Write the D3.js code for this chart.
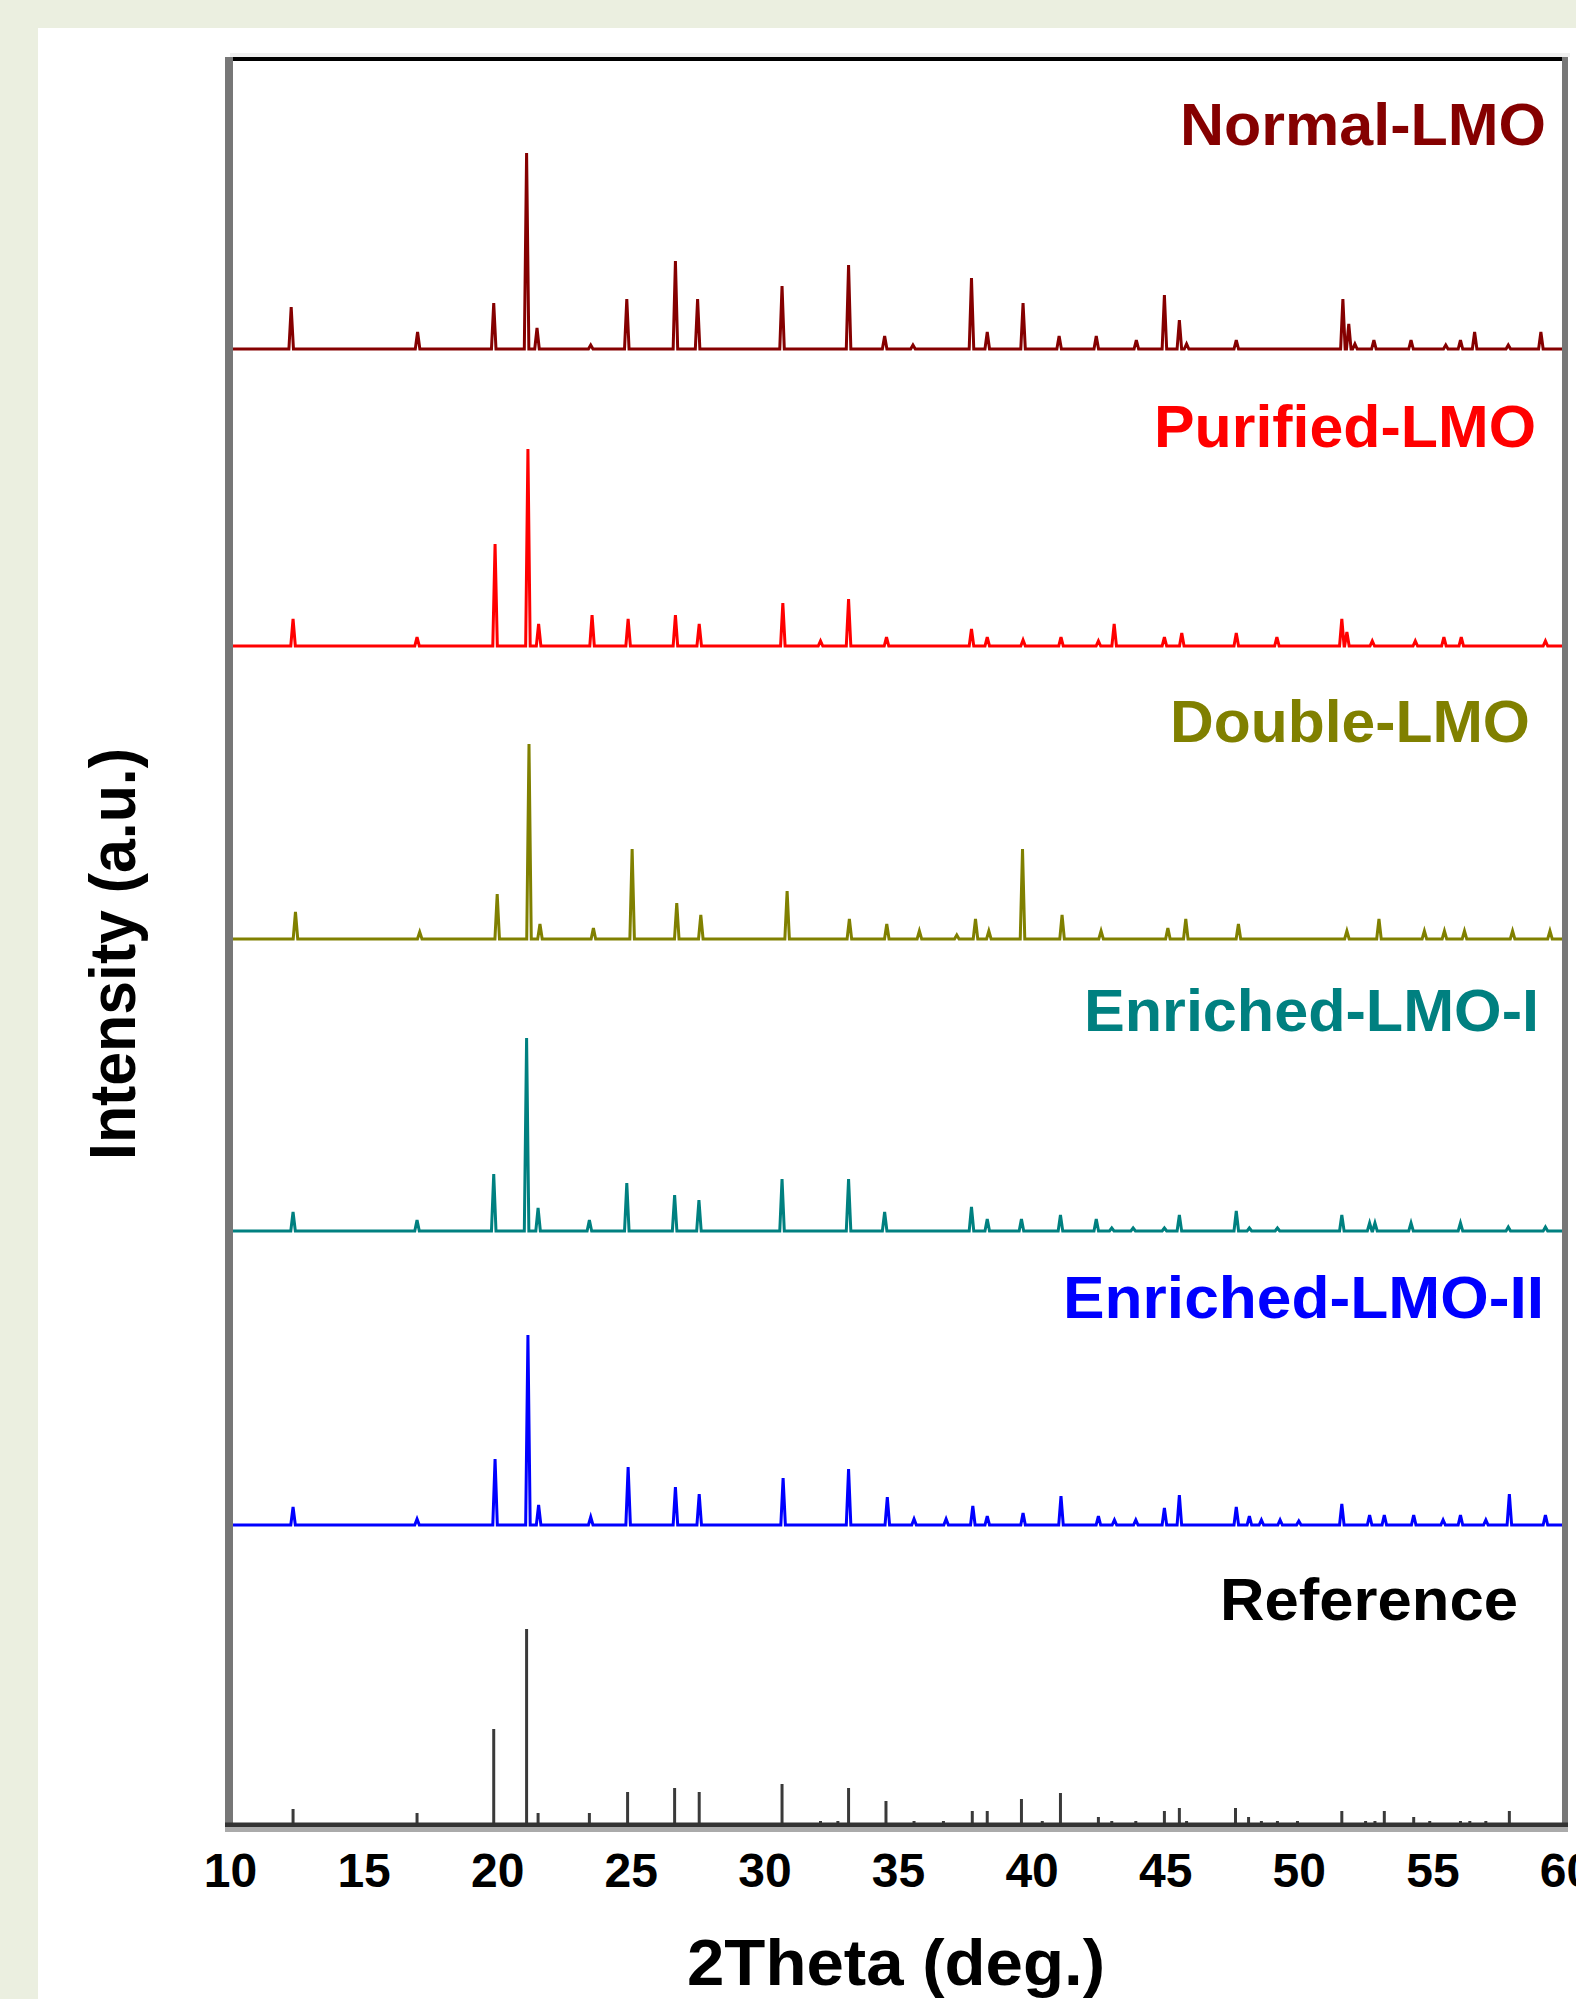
<!DOCTYPE html>
<html><head><meta charset="utf-8">
<script src="https://cdn.jsdelivr.net/npm/d3@7/dist/d3.min.js"></script>
<style>html,body{margin:0;padding:0;background:#fff;} svg{display:block;}</style>
</head><body>
<script>
// ---------------- DATA ----------------
const seriesNames = ["Normal-LMO", "Purified-LMO", "Double-LMO", "Enriched-LMO-I", "Enriched-LMO-II", "Reference"];
const xTickValues = [10, 15, 20, 25, 30, 35, 40, 45, 50, 55, 60];
const xTitle = "2Theta (deg.)";
const yTitle = "Intensity (a.u.)";
// vertical stacking offsets (a.u.)
const offsets = [1476, 1179, 886, 594, 300, 0];

const normalPos = [12.29,17.02,19.87,21.10,21.49,23.50,24.85,26.67,27.50,30.66,33.15,34.50,35.56,37.75,38.34,39.68,41.03,42.42,43.92,44.97,45.53,45.80,47.66,51.65,51.87,52.10,52.81,54.20,55.50,56.05,56.58,57.84,59.06];
const normalInt = [42,17,46,196,21,4,50,88,50,63,84,13,4,71,17,46,13,13,9,54,29,5,9,50,25,5,9,9,4,9,17,4,17];

const purifiedPos = [12.36,17.00,19.92,21.15,21.55,23.55,24.90,26.67,27.56,30.69,32.10,33.15,34.57,37.75,38.34,39.68,41.10,42.50,43.09,44.97,45.62,47.66,49.18,51.61,51.80,52.75,54.36,55.43,56.08,59.23];
const purifiedInt = [27,9,102,197,22,31,27,31,22,43,5,47,9,17,9,6,9,5,22,9,13,13,9,27,14,5,5,9,9,5];

const doublePos = [12.45,17.10,20.00,21.19,21.60,23.60,25.05,26.72,27.62,30.85,33.18,34.58,35.80,37.20,37.90,38.40,39.66,41.14,42.60,45.10,45.77,47.74,51.80,53.00,54.70,55.45,56.20,58.00,59.40];
const doubleInt = [27,7,45,195,15,11,90,36,24,48,20,15,8,4,20,8,90,24,8,11,20,15,8,20,8,8,8,8,8];

const enrichedIPos = [12.36,17.00,19.87,21.10,21.53,23.45,24.85,26.64,27.55,30.66,33.15,34.50,37.75,38.34,39.62,41.08,42.42,43.00,43.80,44.97,45.53,47.66,48.15,49.20,51.61,52.65,52.85,54.20,56.05,57.84,59.23];
const enrichedIInt = [19,11,57,193,23,11,48,36,31,52,52,19,24,12,12,16,12,3,3,3,16,20,3,3,16,8,8,8,8,4,4];

const enrichedIIPos = [12.36,17.00,19.92,21.15,21.55,23.50,24.90,26.67,27.56,30.70,33.15,34.60,35.60,36.80,37.80,38.34,39.68,41.10,42.50,43.10,43.90,44.97,45.53,47.66,48.15,48.60,49.30,50.00,51.61,52.65,53.20,54.30,55.40,56.05,57.00,57.88,59.23];
const enrichedIIInt = [18,6,66,190,20,8,58,38,31,47,56,28,6,6,19,9,12,29,9,5,5,17,30,18,9,5,5,4,21,10,10,10,5,10,5,31,10];

const referencePos = [12.36,17.00,19.87,21.10,21.53,23.45,24.88,26.64,27.56,30.66,32.10,32.75,33.15,34.55,35.60,36.70,37.78,38.34,39.62,40.40,41.08,42.50,43.00,43.90,44.97,45.53,45.80,47.63,48.12,48.60,49.20,49.95,51.61,52.10,52.50,52.85,53.20,54.30,54.90,56.05,56.40,57.00,57.88,59.06,59.50];
const referenceInt = [16,12,96,196,12,12,33,37,33,41,4,4,37,24,4,4,14,14,26,4,32,8,4,4,14,17,4,17,8,4,4,4,14,2,4,4,14,8,4,4,4,4,14,2,2];

// ---------------- STYLE ----------------
const W = 1576, H = 1999;
const colors = ["#850000", "#ff0000", "#808000", "#008080", "#0000ff", "#111111"];
const font = "'Liberation Sans', Arial, Helvetica, sans-serif";
const labelBoxes = [ // x, baseline, textLength
  [1180, 145, 366], [1154, 447, 382], [1170, 742, 360],
  [1084, 1031, 455], [1063, 1318, 481], [1220, 1620, 298]
];
const peakHalfWidth = 0.085;

const svg = d3.select("body").append("svg").attr("width", W).attr("height", H);

// backgrounds
svg.append("rect").attr("x",0).attr("y",0).attr("width",W).attr("height",H).attr("fill","#ebefe0");
svg.append("rect").attr("x",38).attr("y",28).attr("width",W-38).attr("height",H-28).attr("fill","#ffffff");

const x = d3.scaleLinear().domain([10, 60]).range([230, 1566]);
const y = d3.scaleLinear().domain([0, 1766]).range([1825, 59]);

const seriesData = [
  [normalPos, normalInt], [purifiedPos, purifiedInt], [doublePos, doubleInt],
  [enrichedIPos, enrichedIInt], [enrichedIIPos, enrichedIIInt]
];

const line = d3.line().x(d => x(d[0])).y(d => y(d[1]));

seriesData.forEach(([pos, inten], i) => {
  const off = offsets[i];
  const pts = [[10, off]];
  pos.forEach((p, k) => {
    pts.push([p - peakHalfWidth, off]);
    pts.push([p, off + inten[k]]);
    pts.push([p + peakHalfWidth, off]);
  });
  pts.push([60, off]);
  svg.append("path").attr("d", line(pts)).attr("fill", "none")
    .attr("stroke", colors[i]).attr("stroke-width", 3).attr("stroke-linejoin", "miter");
});

// reference sticks
svg.append("g").selectAll("line").data(referencePos).join("line")
  .attr("x1", d => x(d)).attr("x2", d => x(d))
  .attr("y1", y(offsets[5])).attr("y2", (d, k) => y(offsets[5] + referenceInt[k]))
  .attr("stroke", "#3a3a3a").attr("stroke-width", 3);

// frame
svg.append("rect").attr("x",230).attr("y",53).attr("width",1340).attr("height",4).attr("fill","#f0f0f0");
svg.append("rect").attr("x",229).attr("y",57).attr("width",1338).attr("height",4).attr("fill","#000");
svg.append("rect").attr("x",225).attr("y",57).attr("width",8).attr("height",1775).attr("fill","#777");
svg.append("rect").attr("x",1562).attr("y",57).attr("width",6).attr("height",1775).attr("fill","#777");
svg.append("rect").attr("x",225).attr("y",1822.5).attr("width",1343).attr("height",4.5).attr("fill","#333");
svg.append("rect").attr("x",225).attr("y",1827).attr("width",1343).attr("height",5).attr("fill","#aaa");

// x axis
const xAxis = d3.axisBottom(x).tickValues(xTickValues).tickSize(0).tickFormat(d3.format("d"));
const gx = svg.append("g").attr("transform", "translate(0,1825)").call(xAxis);
gx.select(".domain").remove();
gx.selectAll("text").attr("y", 62).attr("dy", 0)
  .attr("font-family", font).attr("font-weight", "bold").attr("font-size", 48).attr("fill", "#000");

// titles
svg.append("text").attr("x", 896).attr("y", 1985).attr("text-anchor", "middle")
  .attr("font-family", font).attr("font-weight", "bold").attr("font-size", 64)
  .attr("textLength", 418).attr("lengthAdjust", "spacingAndGlyphs").text(xTitle);
svg.append("text").attr("transform", "translate(135,954) rotate(-90)").attr("text-anchor", "middle")
  .attr("font-family", font).attr("font-weight", "bold").attr("font-size", 64)
  .attr("textLength", 412).attr("lengthAdjust", "spacingAndGlyphs").text(yTitle);

// series labels
seriesNames.forEach((name, i) => {
  const [lx, ly, lw] = labelBoxes[i];
  svg.append("text").attr("x", lx).attr("y", ly)
    .attr("font-family", font).attr("font-weight", "bold").attr("font-size", 59)
    .attr("fill", i === 5 ? "#000" : colors[i])
    .attr("textLength", lw).attr("lengthAdjust", "spacingAndGlyphs").text(name);
});
</script>
</body></html>
